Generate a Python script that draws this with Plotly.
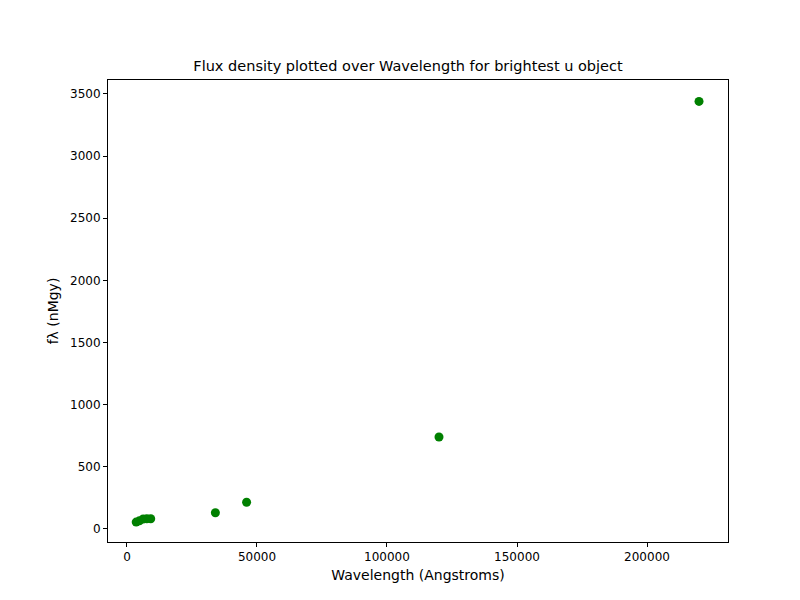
import plotly.graph_objects as go

wavelength = [3543, 4770, 6231, 7625, 9134, 34000, 46000, 120000, 220000]
flux = [55, 65, 80, 82, 82, 130, 215, 740, 3440]

fig = go.Figure(go.Scatter(x=wavelength, y=flux, mode="markers",
                           marker=dict(color="green", size=9)))
ax = dict(showgrid=False, zeroline=False, showline=True, mirror=True, linecolor="black",
          ticks="outside", ticklen=4, tickcolor="black", automargin=False)
fig.update_layout(
    width=800, height=600, plot_bgcolor="white", paper_bgcolor="white",
    font=dict(family="DejaVu Sans", size=12, color="black"),
    title=dict(text="Flux density plotted over Wavelength for brightest u object",
               x=0.5, xanchor="center", y=0.903, yanchor="middle", font=dict(size=14.5)),
    margin=dict(l=100, r=80, t=72, b=66, autoexpand=False),
    xaxis=dict(ax, range=[-7300, 231150], tickvals=[0, 50000, 100000, 150000, 200000],
               tickformat="d", title=dict(text="Wavelength (Angstroms)", standoff=6)),
    yaxis=dict(ax, range=[-105, 3612], tickvals=list(range(0, 3501, 500)),
               tickformat="d", title=dict(text="fλ (nMgy)", standoff=8)),
)
fig.write_html("out.html")
